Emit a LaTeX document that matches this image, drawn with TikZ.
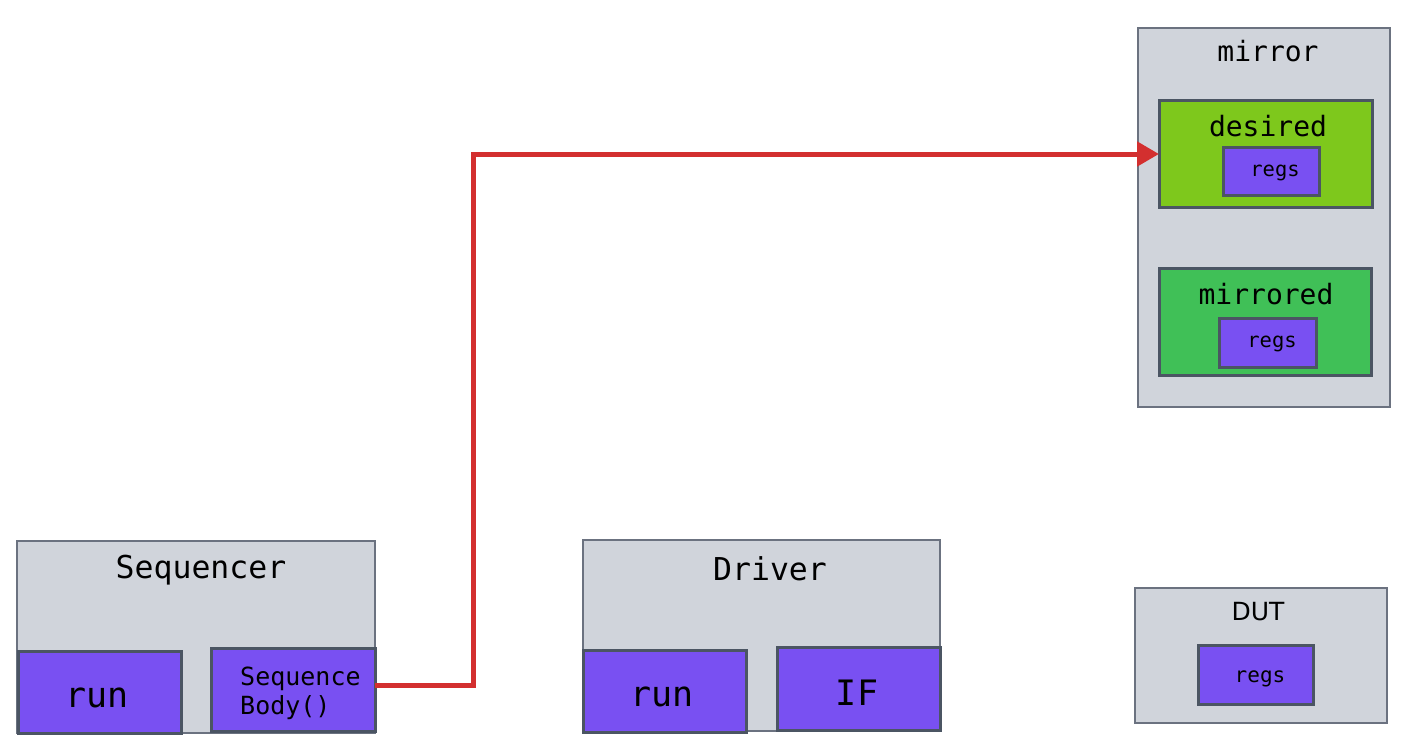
\documentclass[tikz,border=0pt]{standalone}
\usepackage{fontspec}
\setmainfont{DejaVu Sans}
\setmonofont{DejaVu Sans Mono}
\usetikzlibrary{arrows.meta}
\definecolor{boxgray}{HTML}{D0D4DB}
\definecolor{outline}{HTML}{6B7280}
\definecolor{inner}{HTML}{4B5563}
\definecolor{purp}{HTML}{7950F2}
\definecolor{lime}{HTML}{7EC81C}
\definecolor{grn}{HTML}{40C057}
\definecolor{arrowred}{HTML}{D32F2F}
\tikzset{
  outerbox/.style={draw=outline, line width=1.8pt, fill=boxgray},
  innerbox/.style={draw=inner, line width=3pt},
  lbl/.style={inner sep=0pt, font=#1},
  conn/.style={draw=arrowred, line width=5pt, -{Triangle[length=22pt,width=24pt]}}
}
\newcommand{\fs}[1]{\fontsize{#1}{#1}\selectfont}
\begin{document}
\begin{tikzpicture}[x=1pt,y=-1pt]
\useasboundingbox (0,0) rectangle (1409,753);
% mirror
\path[outerbox] (1138,28) rectangle (1390,407);
\node[lbl=\ttfamily\fs{28}] (mirrorT) at (1268,51) {mirror};
\path[innerbox, fill=lime] (1159,100) rectangle (1372,207);
\coordinate (desW) at (1159,154);
\node[lbl=\ttfamily\fs{28}] (desT) at (1268,126) {desired};
\path[innerbox, fill=purp] (1223,147) rectangle (1319,195);
\node[lbl=\ttfamily\fs{20.5}] (r1) at (1275,173) {regs};
\path[innerbox, fill=grn] (1159,268) rectangle (1371,375);
\node[lbl=\ttfamily\fs{28}] (mirT) at (1266,294) {mirrored};
\path[innerbox, fill=purp] (1219,318) rectangle (1316,367);
\node[lbl=\ttfamily\fs{20.5}] (r2) at (1272,344) {regs};
% Sequencer
\path[outerbox] (17,541) rectangle (375,733);
\node[lbl=\ttfamily\fs{31.5}] (seqT) at (201,570) {Sequencer};
\path[innerbox, fill=purp] (18,651) rectangle (181,733);
\node[lbl=\ttfamily\fs{35}] (run1) at (97,698) {run};
\path[innerbox, fill=purp] (211,648) rectangle (375,731);
\coordinate (sbE) at (375,685);
\node[lbl=\ttfamily\fs{25}, anchor=west, align=left] (sb) at (240,693) {Sequence\\[4pt]Body()};
% Driver
\path[outerbox] (583,540) rectangle (940,731);
\node[lbl=\ttfamily\fs{31.5}] (drvT) at (770,569) {Driver};
\path[innerbox, fill=purp] (583,650) rectangle (746,732);
\node[lbl=\ttfamily\fs{35}] (run2) at (662,697) {run};
\path[innerbox, fill=purp] (777,647) rectangle (940,730);
\node[lbl=\ttfamily\fs{35}] (IF) at (857,693) {IF};
% DUT
\path[outerbox] (1135,588) rectangle (1387,723);
\node[lbl=\fs{25}] (dutT) at (1258,612) {DUT};
\path[innerbox, fill=purp] (1198,645) rectangle (1313,704);
\node[lbl=\ttfamily\fs{21}] (r3) at (1260,679) {regs};
% connector
\draw[conn] (sbE) -- (473,685) -- (473,154) -- (desW);
\end{tikzpicture}
\end{document}
